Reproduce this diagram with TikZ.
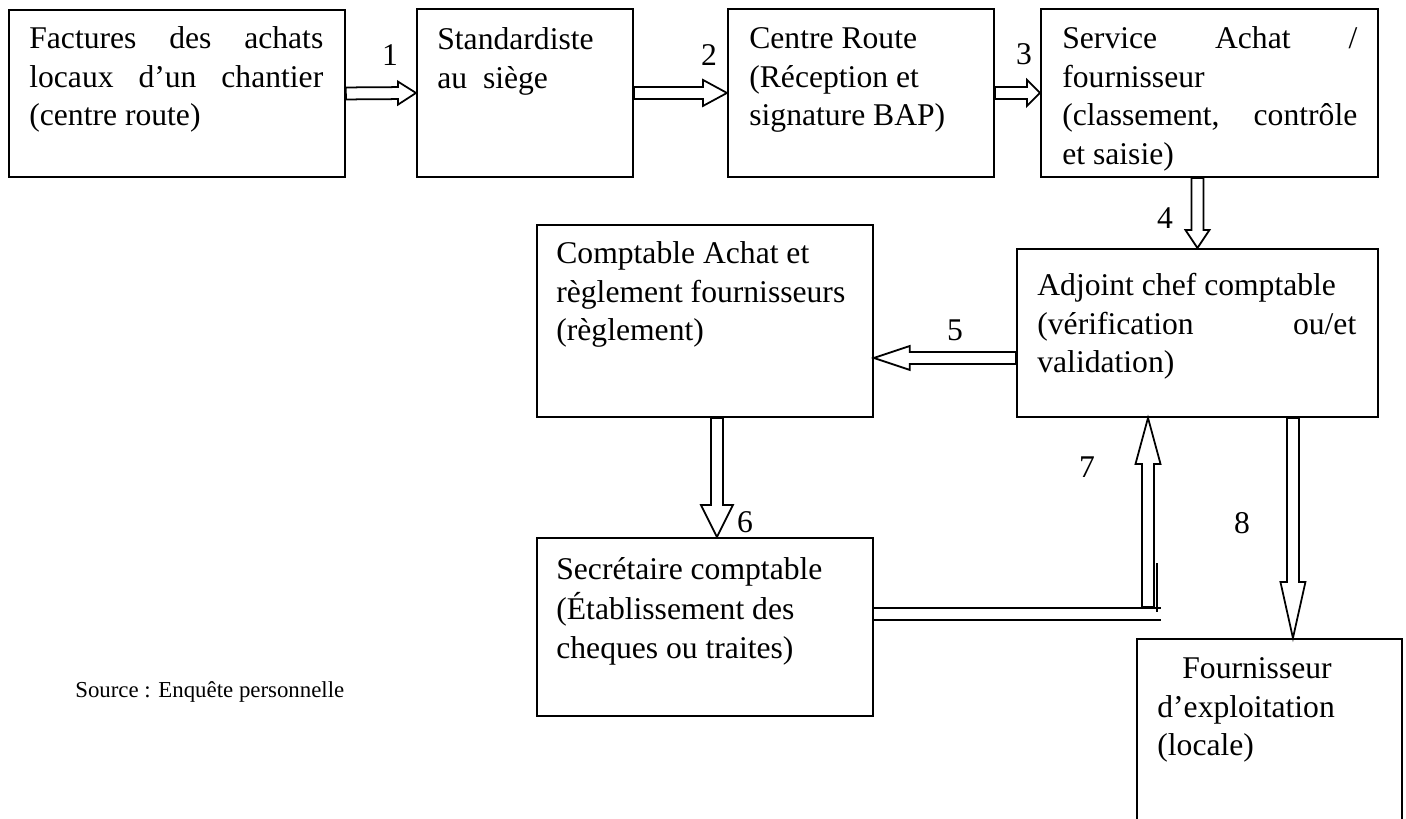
\documentclass[tikz,border=0pt]{standalone}
\usepackage{fontspec}
\setmainfont{Liberation Serif}
\usetikzlibrary{calc,positioning}

\newcommand{\taille}{\fontsize{18}{22}\selectfont}
\newcommand{\petite}{\fontsize{13}{16}\selectfont}
\newcommand{\pleine}[1]{\makebox[\hsize][s]{#1}}
% fleche creuse : depart, pointe, longueur de tete, demi-largeur de tete
\newcommand{\fleche}[4]{%
  \coordinate (tb) at ($(#2)!#3!(#1)$);
  \draw[bloc] ($(#1)!0.12cm!90:(#2)$) -- ($(tb)!0.12cm!90:(#2)$)
    -- ($(tb)!#4!90:(#2)$) -- (#2) -- ($(tb)!#4!-90:(#2)$)
    -- ($(tb)!0.12cm!-90:(#2)$) -- ($(#1)!0.12cm!-90:(#2)$) -- cycle;}

\tikzset{
  boite/.style={draw,line width=1.1pt,anchor=north west,inner sep=0pt},
  texte/.style={anchor=north west,inner sep=0pt,font=\taille,align=justify},
  num/.style={font=\taille,inner sep=0pt},
  bloc/.style={draw,line width=1pt,fill=white,line join=miter},
  trait/.style={line width=1pt}
}

\begin{document}
\begin{tikzpicture}[x=0.02cm,y=-0.02cm]
\useasboundingbox (0,0) rectangle (1406,818);
\clip (0,0) rectangle (1406,818);
% premiere rangee
\node[boite,minimum width=6.72cm,minimum height=3.34cm] (fact) at (8,9) {};
\node[boite,minimum width=4.32cm,minimum height=3.36cm] (stand) at (416,8) {};
\node[boite,minimum width=5.32cm,minimum height=3.36cm] (centre) at (727,8) {};
\node[boite,minimum width=6.74cm,minimum height=3.36cm] (serv) at (1040,8) {};
\node[texte,text width=5.88cm] (tfact) at ([shift={(21,12)}]fact.north west)
  {\strut\pleine{Factures des achats}\\\pleine{locaux d’un chantier}\\(centre route)};
\node[texte,text width=3.48cm] (tstand) at ([shift={(21,14)}]stand.north west)
  {\strut Standardiste\\au\ \ siège};
\node[texte,text width=4.48cm] (tcentre) at ([shift={(22,13)}]centre.north west)
  {\strut Centre Route\\(Réception et\\signature BAP)};
\node[texte,text width=5.9cm] (tserv) at ([shift={(22,13)}]serv.north west)
  {\strut\pleine{Service Achat /}\\fournisseur\\\pleine{(classement, contrôle}\\et saisie)};
% deuxieme rangee
\node[boite,minimum width=7.22cm,minimum height=3.36cm] (adj) at (1016,248) {};
\node[boite,minimum width=6.72cm,minimum height=3.84cm] (compt) at (536,224) {};
\node[texte,text width=6.38cm] (tadj) at ([shift={(21,20)}]adj.north west)
  {\strut Adjoint chef comptable\\\pleine{(vérification ou/et}\\validation)};
\node[texte,text width=6.2cm] (tcompt) at ([shift={(20,12)}]compt.north west)
  {\strut Comptable Achat et\\règlement fournisseurs\\(règlement)};
% troisieme rangee
\node[boite,minimum width=6.72cm,minimum height=3.56cm] (secr) at (536,537) {};
\node[boite,minimum width=5.30cm,minimum height=5cm] (four) at (1136,638) {};
\node[texte,text width=6.2cm] (tsecr) at ([shift={(20,15)}]secr.north west)
  {\strut Secrétaire comptable\\(Établissement des\\cheques ou traites)};
\node[texte,text width=5cm] (tfour) at ([shift={(21,13)}]four.north west)
  {\strut\hspace*{0.5cm}Fournisseur\\d’exploitation\\(locale)};
\node[num,font=\petite,anchor=west] (source) at (75,692) {Source : Enquête personnelle};
% liaison de 6 vers 7
\coordinate (j1) at (1161,608);
\coordinate (j2) at (1161,620);
\draw[trait] (j1 -| secr.east) -- (j1);
\draw[trait] (j2 -| secr.east) -- (j2);
\draw[trait] (1157,563) -- (1157,612);
% fleches
\coordinate (d4) at (serv.south -| adj.north);
\coordinate (d5) at ($(adj.west)+(0,25)$);
\coordinate (f5) at (compt.east |- d5);
\coordinate (d6) at ($(compt.south)+(12,0)$);
\coordinate (f6) at (secr.north -| d6);
\coordinate (d7) at (1148,607);
\coordinate (f7) at (adj.south -| d7);
\coordinate (d8) at ($(adj.south -| four.north)+(23.5,0)$);
\coordinate (f8) at (four.north -| d8);
\fleche{fact.east}{stand.west}{0.36cm}{0.23cm}
\fleche{stand.east}{centre.west}{0.48cm}{0.26cm}
\fleche{centre.east}{serv.west}{0.26cm}{0.26cm}
\fleche{d4}{adj.north}{0.36cm}{0.24cm}
\fleche{d5}{f5}{0.72cm}{0.24cm}
\fleche{d6}{f6}{0.64cm}{0.32cm}
\fleche{d7}{f7}{0.92cm}{0.25cm}
\fleche{d8}{f8}{1.12cm}{0.25cm}
% numeros
\node[num] (n1) at (390,55) {1};
\node[num] (n2) at (709,55) {2};
\node[num] (n3) at (1024,54) {3};
\node[num] (n4) at (1165,218) {4};
\node[num] (n5) at (955,330) {5};
\node[num] (n6) at (745,522) {6};
\node[num] (n7) at (1087,467) {7};
\node[num] (n8) at (1242,523) {8};
\end{tikzpicture}
\end{document}
